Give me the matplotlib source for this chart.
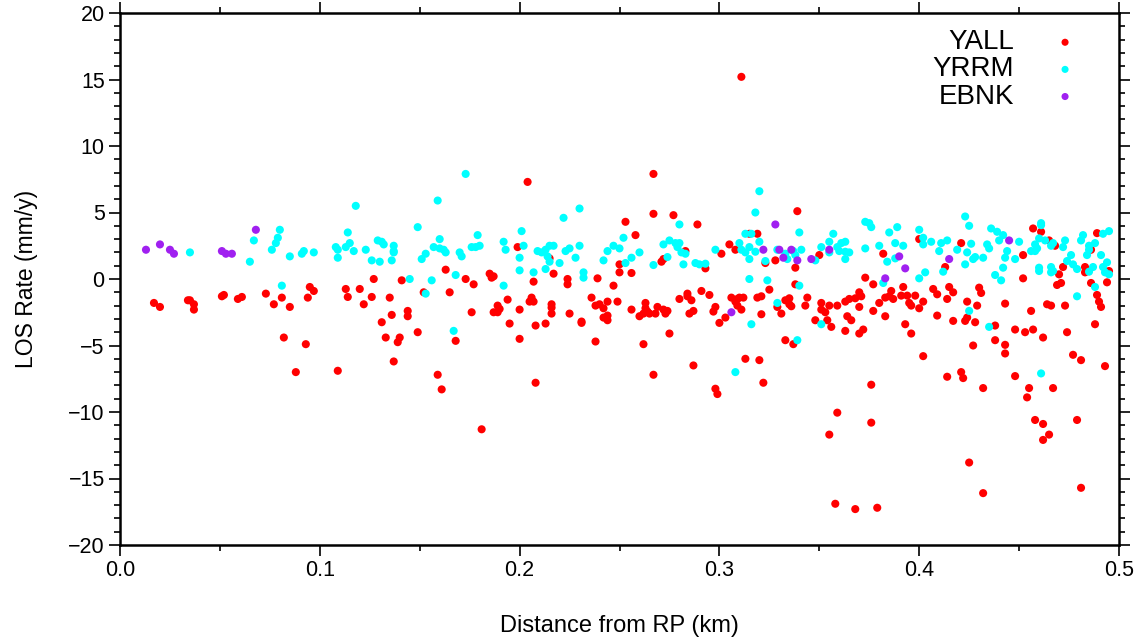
import matplotlib
matplotlib.use("Agg")
import matplotlib.pyplot as plt
from matplotlib.ticker import MultipleLocator

plt.rcParams['font.family'] = ['Liberation Sans', 'DejaVu Sans']

# ---------------- data ----------------
series_names = ["YALL", "YRRM", "EBNK"]
series_colors = ["#ff0000", "#00ffff", "#a020f0"]

ebnk_x = [0.013, 0.020, 0.025, 0.027, 0.051, 0.053, 0.056, 0.068, 0.328, 0.322, 0.330,
          0.332, 0.306, 0.336, 0.339, 0.346, 0.355, 0.390, 0.393, 0.383, 0.415, 0.445]
ebnk_y = [2.2, 2.6, 2.2, 1.9, 2.1, 1.9, 1.9, 3.7, 4.1, 2.2, 2.2,
          1.6, -2.5, 2.2, 1.4, 1.5, 2.2, 1.7, 0.8, 0.05, 1.5, 2.9]

yrrm_x = [0.035, 0.065, 0.067, 0.076, 0.078, 0.079, 0.080, 0.085, 0.081,
          0.091, 0.092, 0.097, 0.118, 0.114, 0.115, 0.113, 0.108, 0.109, 0.109, 0.117,
          0.123, 0.129, 0.131, 0.132, 0.137, 0.137, 0.137, 0.126, 0.130, 0.136, 0.149,
          0.159, 0.160, 0.157, 0.160, 0.162, 0.163, 0.153, 0.151, 0.145, 0.156, 0.153,
          0.168, 0.167,
          0.173, 0.179, 0.176, 0.178, 0.180, 0.170, 0.171, 0.192, 0.193, 0.201, 0.202,
          0.200, 0.200, 0.207, 0.192, 0.209, 0.211, 0.213, 0.215, 0.217, 0.214, 0.215,
          0.213, 0.220, 0.222, 0.230, 0.223, 0.225, 0.230, 0.228, 0.232, 0.232, 0.242,
          0.244, 0.247, 0.250,
          0.320, 0.318, 0.280, 0.252, 0.256, 0.260, 0.253, 0.267, 0.272, 0.275, 0.278,
          0.280, 0.279, 0.281, 0.283, 0.274, 0.282, 0.288, 0.290, 0.293, 0.298, 0.313,
          0.316, 0.310, 0.311, 0.313, 0.315, 0.315, 0.318, 0.320, 0.323, 0.329, 0.315,
          0.324, 0.329, 0.316, 0.308,
          0.333, 0.334, 0.337, 0.338, 0.340, 0.341, 0.348, 0.351, 0.355, 0.355, 0.357,
          0.359, 0.360, 0.361, 0.363, 0.363, 0.365, 0.363, 0.373, 0.373, 0.375, 0.376,
          0.380, 0.385, 0.389, 0.388, 0.392, 0.384, 0.388, 0.382, 0.400, 0.402, 0.402,
          0.406, 0.410, 0.411, 0.414, 0.403, 0.400, 0.412, 0.340, 0.351, 0.339,
          0.423, 0.425, 0.426, 0.419, 0.424, 0.423, 0.427, 0.428, 0.432, 0.434, 0.435,
          0.436, 0.439, 0.442, 0.440, 0.444, 0.443, 0.448, 0.442, 0.438, 0.441, 0.450,
          0.461, 0.461, 0.460, 0.463, 0.458, 0.459, 0.456, 0.458, 0.466, 0.467, 0.472,
          0.473, 0.460, 0.460, 0.466, 0.466, 0.467, 0.474, 0.476, 0.477, 0.479, 0.481,
          0.482, 0.485, 0.485, 0.488, 0.484, 0.485, 0.487, 0.492, 0.491, 0.492, 0.495,
          0.494, 0.493, 0.495, 0.488, 0.479, 0.425, 0.435, 0.461]
yrrm_y = [2.0, 1.3, 2.9, 2.2, 2.7, 3.1, 3.7, 1.7, -0.5,
          1.9, 2.1, 2.0, 5.5, 3.5, 2.7, 2.4, 2.4, 2.2, 1.6, 2.1,
          2.2, 2.9, 2.8, 2.6, 2.5, 2.1, 2.0, 1.4, 1.3, 1.4, 3.9,
          5.9, 3.0, 2.4, 2.3, 2.2, 2.0, 1.9, 1.5, 0.0, -0.1, -1.1,
          0.3, -3.9,
          7.9, 3.3, 2.4, 2.4, 2.5, 2.0, 1.7, 2.8, 2.2, 3.6, 2.5,
          1.6, 0.65, 0.5, -0.5, 2.1, 2.0, 2.2, 2.5, 2.5, 1.7, 1.3,
          0.75, 1.2, 4.6, 5.3, 2.1, 2.3, 2.5, 1.6, 0.5, 0.1, 1.4,
          2.1, 2.5, 2.3,
          6.6, 5.0, 4.1, 3.1, 1.6, 2.0, 1.2, 1.05, 2.6, 2.9, 2.7,
          2.7, 2.4, 2.0, 1.9, 1.65, 1.1, 1.2, 1.1, 1.15, 2.2, 3.4,
          3.4, 2.7, 2.2, 2.0, 2.4, 1.5, 2.05, 2.8, 1.35, 2.2, 0.0,
          -0.1, -1.8, -3.4, -7.0,
          1.9, 1.5, 2.1, 1.8, 3.5, 2.2, 1.4, 2.4, 2.8, 2.0, 3.4,
          2.4, 2.1, 2.7, 2.8, 2.05, 2.0, 1.5, 2.3, 4.3, 4.2, 3.9,
          2.5, 3.5, 3.9, 2.7, 2.5, 1.3, 1.55, -0.3, 3.7, 3.1, 2.6,
          2.8, 2.1, 2.7, 2.9, 0.5, 0.05, 0.55, -0.5, -3.4, -4.6,
          4.7, 4.0, 2.65, 2.2, 2.0, 1.1, 1.5, 1.65, 1.6, 2.6, 2.3,
          3.8, 3.55, 3.3, 2.9, 2.1, 1.6, 1.5, 0.85, 0.3, -0.1, 2.8,
          4.2, 4.05, 3.05, 2.9, 2.6, 2.3, 2.1, 2.1, 2.5, 2.7, 2.4,
          2.9, 0.85, 0.6, 0.9, 0.5, 0.6, 1.35, 1.8, 1.1, 0.75, 2.9,
          3.3, 2.5, 2.2, 2.7, 1.8, 0.55, 0.9, 0.9, 1.8, 3.4, 3.6,
          1.25, 0.5, 0.35, -0.6, -1.3, -2.4, -3.6, -7.1]

yall_x = [0.017, 0.020, 0.034, 0.035, 0.037, 0.037, 0.051, 0.052, 0.059, 0.061, 0.073,
          0.077, 0.081, 0.085, 0.082,
          0.095, 0.097, 0.094, 0.093, 0.088, 0.109, 0.113, 0.114, 0.120, 0.122, 0.127,
          0.126, 0.135, 0.141, 0.136, 0.131, 0.144, 0.144, 0.133, 0.140, 0.139, 0.149,
          0.137, 0.163, 0.165, 0.152, 0.159, 0.161, 0.168, 0.181,
          0.204, 0.199, 0.215, 0.217, 0.207, 0.173, 0.177, 0.185, 0.186, 0.187, 0.224,
          0.224, 0.239, 0.247, 0.250, 0.250, 0.194, 0.189, 0.190, 0.187, 0.189, 0.176,
          0.200, 0.205, 0.206, 0.207, 0.216, 0.216, 0.216, 0.225, 0.195, 0.208, 0.213,
          0.231, 0.231, 0.236, 0.238, 0.240, 0.242, 0.244, 0.249, 0.244, 0.242, 0.244,
          0.200, 0.238, 0.208,
          0.267, 0.267, 0.277, 0.253, 0.258, 0.289, 0.283, 0.271, 0.272, 0.256, 0.256,
          0.260, 0.263, 0.263, 0.264, 0.262, 0.265, 0.268, 0.269, 0.272, 0.273, 0.274,
          0.280, 0.284, 0.284, 0.286, 0.287, 0.285, 0.291, 0.295, 0.298, 0.297, 0.293,
          0.301, 0.305, 0.308, 0.315, 0.319, 0.328, 0.323, 0.306, 0.308, 0.309, 0.310,
          0.312, 0.309, 0.311, 0.303, 0.300, 0.319, 0.321, 0.325, 0.321, 0.329, 0.331,
          0.333, 0.333, 0.275, 0.262, 0.287, 0.267, 0.313, 0.320, 0.322, 0.298, 0.299,
          0.311,
          0.339, 0.350, 0.338, 0.382, 0.373, 0.377, 0.338, 0.335, 0.335, 0.336, 0.344,
          0.343, 0.351, 0.351, 0.353, 0.355, 0.359, 0.348, 0.354, 0.356, 0.363, 0.365,
          0.368, 0.370, 0.371, 0.370, 0.364, 0.366, 0.363, 0.370, 0.372, 0.377, 0.380,
          0.383, 0.385, 0.386, 0.387, 0.383, 0.392, 0.391, 0.394, 0.398, 0.395, 0.396,
          0.400, 0.402, 0.393, 0.396, 0.407, 0.409, 0.409, 0.414, 0.415, 0.413, 0.400,
          0.337, 0.402, 0.376, 0.414,
          0.359, 0.376, 0.355, 0.358, 0.368, 0.379, 0.425, 0.432, 0.458, 0.462, 0.465,
          0.462, 0.479, 0.481,
          0.421, 0.457, 0.461, 0.465, 0.468, 0.452, 0.489, 0.486, 0.472, 0.470, 0.483,
          0.483, 0.495, 0.417, 0.430, 0.431, 0.429, 0.424, 0.452, 0.443, 0.469, 0.471,
          0.464, 0.466, 0.473, 0.456, 0.486, 0.489, 0.490, 0.491, 0.494, 0.488, 0.417,
          0.423, 0.424, 0.428, 0.438, 0.438, 0.448, 0.453, 0.457, 0.462, 0.474, 0.427,
          0.443, 0.443, 0.477, 0.481, 0.493, 0.421, 0.422, 0.448, 0.432, 0.455, 0.454,
          0.467]
yall_y = [-1.8, -2.1, -1.6, -1.6, -1.9, -2.3, -1.3, -1.2, -1.5, -1.35, -1.1,
          -1.9, -1.4, -2.1, -4.4,
          -0.6, -0.9, -1.4, -4.9, -7.0, -6.9, -0.75, -1.35, -0.75, -1.9, 0.0,
          -1.35, -1.4, -0.1, -2.7, -3.25, -2.4, -2.8, -4.4, -4.4, -4.75, -4.0,
          -6.2, 0.7, -1.0, -1.0, -7.2, -8.3, -4.65, -11.3,
          7.3, 2.4, 1.55, 0.4, -0.2, 0.0, -0.4, 0.4, 0.1, 0.2, 0.0,
          -0.4, 0.05, -0.5, 1.1, 0.5, -1.55, -2.0, -2.25, -2.5, -2.5, -2.5,
          -2.3, -1.7, -1.4, -1.7, -1.9, -2.15, -2.6, -2.6, -3.35, -3.5, -3.35,
          -3.2, -3.3, -1.4, -2.0, -1.9, -2.2, -1.7, -1.7, -2.75, -2.9, -3.1,
          -4.5, -4.7, -7.8,
          7.9, 4.9, 4.8, 4.3, 3.3, 4.1, 2.1, 1.3, 1.5, 0.45, -2.3,
          -2.8, -1.8, -2.2, -2.45, -2.6, -2.6, -2.6, -2.1, -2.3, -2.6, -2.4,
          -1.5, -1.1, -1.3, -1.6, -2.4, -2.6, -0.9, -1.2, -2.1, -2.45, 0.8,
          1.9, 2.6, 2.2, 3.4, 3.4, 1.4, 1.2, -1.4, -1.7, -1.5, -1.4,
          -1.4, -2.0, -2.3, -2.9, -3.3, -1.4, -1.3, -0.8, -2.65, -2.1, -2.6,
          -1.6, -4.6, -4.1, -4.9, -6.5, -7.2, -6.0, -6.1, -7.8, -8.25, -8.65,
          15.2,
          5.1, 1.8, 0.85, 1.9, 0.1, -0.4, -0.4, -1.45, -1.9, -2.05, -1.4,
          -2.0, -1.8, -2.3, -2.5, -2.0, -2.0, -3.1, -3.1, -3.6, -1.7, -1.5,
          -1.45, -1.0, -1.3, -2.1, -2.8, -3.1, -3.9, -4.1, -3.8, -2.4, -1.8,
          -1.4, -1.3, -0.9, -1.5, -2.8, -0.6, -1.25, -1.25, -1.25, -1.8, -2.0,
          -2.2, -1.7, -3.4, -4.1, -0.75, -1.15, -2.75, -1.5, -0.6, 0.9, 3.0,
          -4.9, -5.8, -7.95, -7.35,
          -10.05, -10.8, -11.7, -16.9, -17.3, -17.2, -13.8, -16.1, -10.6, -10.9, -11.7,
          -12.1, -10.6, -15.7,
          2.7, 3.8, 3.55, 2.9, 2.5, 1.8, 3.45, 2.2, 0.9, 0.35, 0.9,
          0.5, 0.6, -1.0, -0.65, -1.05, -2.0, -1.7, 0.05, -1.85, -0.45, -0.3,
          -1.9, -2.0, -2.0, -2.4, -0.3, -1.2, -1.7, -2.1, -0.25, -3.4, -3.15,
          -3.15, -2.9, -3.25, -3.5, -4.6, -3.8, -4.0, -3.8, -4.4, -4.0, -5.0,
          -4.95, -5.6, -5.7, -6.1, -6.55, -7.0, -7.45, -7.3, -8.2, -8.2, -8.9,
          -8.2]

x_ticks = [0.0, 0.1, 0.2, 0.3, 0.4, 0.5]
y_ticks = [-20, -15, -10, -5, 0, 5, 10, 15, 20]

# ---------------- figure ----------------
fig = plt.figure(figsize=(11.36, 6.39), dpi=100)
ax = fig.add_axes([120 / 1136, 94 / 639, 999 / 1136, 532 / 639])

series = [(yall_x, yall_y), (yrrm_x, yrrm_y), (ebnk_x, ebnk_y)]
for (xs, ys), name, col in zip(series, series_names, series_colors):
    ax.scatter(xs, ys, s=34, color=col, edgecolors='none', label=name, zorder=3)

ax.set_xlim(0, 0.5)
ax.set_ylim(-20, 20)
ax.set_xticks(x_ticks)
ax.set_xticklabels([f"{t:.1f}" for t in x_ticks])
ax.set_yticks(y_ticks)
ax.xaxis.set_minor_locator(MultipleLocator(0.05))
ax.yaxis.set_minor_locator(MultipleLocator(1))

ax.tick_params(which='both', direction='out', top=True, right=True, width=1.2,
               labelsize=15.5, colors='black')
ax.tick_params(which='major', length=8, pad=3)
ax.tick_params(which='minor', length=4)
for sp in ax.spines.values():
    sp.set_linewidth(1.8)

ax.set_xlabel("Distance from RP (km)", fontsize=17, labelpad=24)
ax.set_ylabel("LOS Rate (mm/y)", fontsize=16.5, labelpad=22)

# legend: right-aligned labels with markers to their right
leg_y = [0.945, 0.894, 0.843]
for (name, col, yy) in zip(series_names, series_colors, leg_y):
    ax.text(0.895, yy, name, transform=ax.transAxes, ha='right', va='center',
            fontsize=20)
    ax.scatter([0.946], [yy], s=26, color=col, edgecolors='none',
               transform=ax.transAxes, zorder=4)

fig.savefig("out.png", dpi=100)
